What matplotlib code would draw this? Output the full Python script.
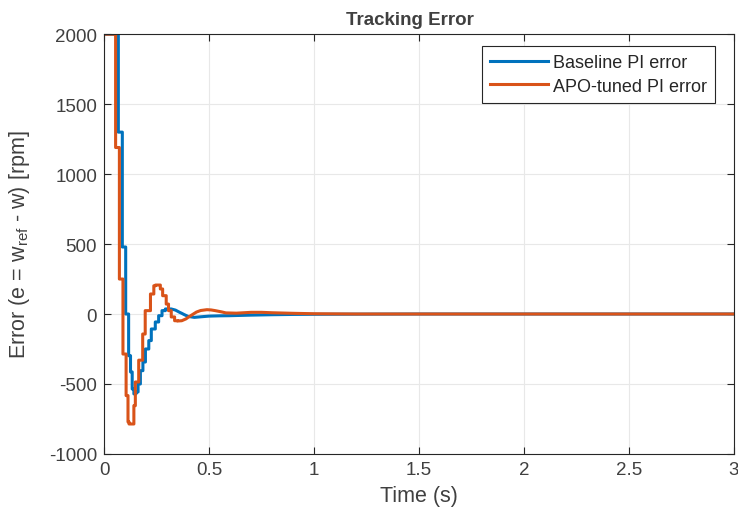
import numpy as np
import matplotlib
matplotlib.use("Agg")
import matplotlib.pyplot as plt

plt.rcParams['font.family'] = ['Liberation Sans', 'DejaVu Sans']
plt.rcParams['mathtext.fontset'] = 'custom'
plt.rcParams['mathtext.rm'] = 'Liberation Sans'
plt.rcParams['mathtext.it'] = 'Liberation Sans'
plt.rcParams['axes.unicode_minus'] = False

# Speed error samples (time in s, error in rpm); the early part is a
# zero-order-hold staircase, the tail after it is a smooth decay
t_base = [0.0, 0.068, 0.087, 0.103, 0.117, 0.126, 0.134, 0.142, 0.152, 0.162,
          0.173, 0.185, 0.197, 0.213, 0.225, 0.244, 0.260, 0.276, 0.292,
          0.32, 0.34, 0.35, 0.36, 0.37, 0.38, 0.39, 0.40, 0.43, 0.46, 0.5,
          0.55, 0.6, 0.7, 0.8, 0.9, 1.0, 1.2, 1.5, 3.0]
e_base = [2000, 1300, 479, 0, -298, -414, -536, -571, -557, -500,
          -405, -343, -250, -190, -107, -57, -12, 24, 36,
          36, 28, 20, 12, 5, -3, -10, -17, -24, -20, -15,
          -13, -12, -8, -5, -3, -2, -1, 0, 0]
n_step_base = 19

t_apo = [0.0, 0.055, 0.073, 0.090, 0.105, 0.114, 0.119, 0.142, 0.149, 0.165,
         0.184, 0.196, 0.221, 0.237, 0.245, 0.268, 0.279, 0.296, 0.307, 0.320,
         0.336, 0.35, 0.37, 0.39, 0.40, 0.42, 0.44, 0.46, 0.49, 0.51, 0.53,
         0.56, 0.58, 0.63, 0.70, 0.75, 0.8, 0.9, 1.0, 1.2, 3.0]
e_apo = [2000, 1190, 250, -286, -583, -771, -786, -655, -486, -330,
         -143, 24, 143, 202, 207, 179, 131, 71, 24, -21,
         -48, -50, -48, -35, -24, -5, 14, 25, 31, 29, 24,
         15, 8, 6, 12, 12, 9, 5, 2, 0, 0]
n_step_apo = 21

labels = ['Baseline PI error', 'APO-tuned PI error']
colors = ['#0072BD', '#D95319']
ink = '#262626'
txt_col = '#404040'


def staircase(t, e, n):
    # hold each of the first n samples until the next one, then join the rest
    ts = [t[0]]
    es = [e[0]]
    for i in range(1, len(t)):
        if i <= n:
            ts.append(t[i])
            es.append(e[i - 1])
        ts.append(t[i])
        es.append(e[i])
    return np.array(ts), np.array(es)


fig = plt.figure(figsize=(7.38, 5.10), dpi=100)
ax = fig.add_axes([0.141, 0.108, 0.8536, 0.823])

xb, yb = staircase(t_base, e_base, n_step_base)
xa, ya = staircase(t_apo, e_apo, n_step_apo)
ax.plot(xb, yb, color=colors[0], lw=2.2, label=labels[0])
ax.plot(xa, ya, color=colors[1], lw=2.2, label=labels[1])

ax.set_xlim(0, 3)
ax.set_ylim(-1000, 2000)
ax.set_xticks(np.arange(0, 3.01, 0.5))
ax.set_xticklabels(['0', '0.5', '1', '1.5', '2', '2.5', '3'])
ax.set_yticks(np.arange(-1000, 2001, 500))

ax.grid(True, color='#e8e8e8', lw=0.8)
ax.set_axisbelow(True)
ax.tick_params(direction='in', top=True, right=True, colors=ink, labelsize=13.5,
               length=5, width=0.8, labelcolor=txt_col, pad=5)
for s in ax.spines.values():
    s.set_color(ink)
    s.set_linewidth(0.8)

ax.set_xlabel('Time (s)', fontsize=15.5, color=txt_col, labelpad=5)
ax.set_ylabel(r'Error (e = w$_{\mathrm{ref}}$ - w) [rpm]', fontsize=15.5,
              color=txt_col, labelpad=12)
ax.set_title('Tracking Error', fontsize=13.5, fontweight='bold', color=txt_col,
             x=0.485, pad=7)

leg = ax.legend(loc='upper right', bbox_to_anchor=(0.970, 0.971), fontsize=13,
                fancybox=False, framealpha=1, edgecolor=ink, handlelength=3.2,
                borderpad=0.45, labelspacing=0.35, handletextpad=0.3,
                borderaxespad=0)
leg.get_frame().set_linewidth(0.8)
for txt in leg.get_texts():
    txt.set_color(ink)

fig.savefig('out.png', dpi=100)
